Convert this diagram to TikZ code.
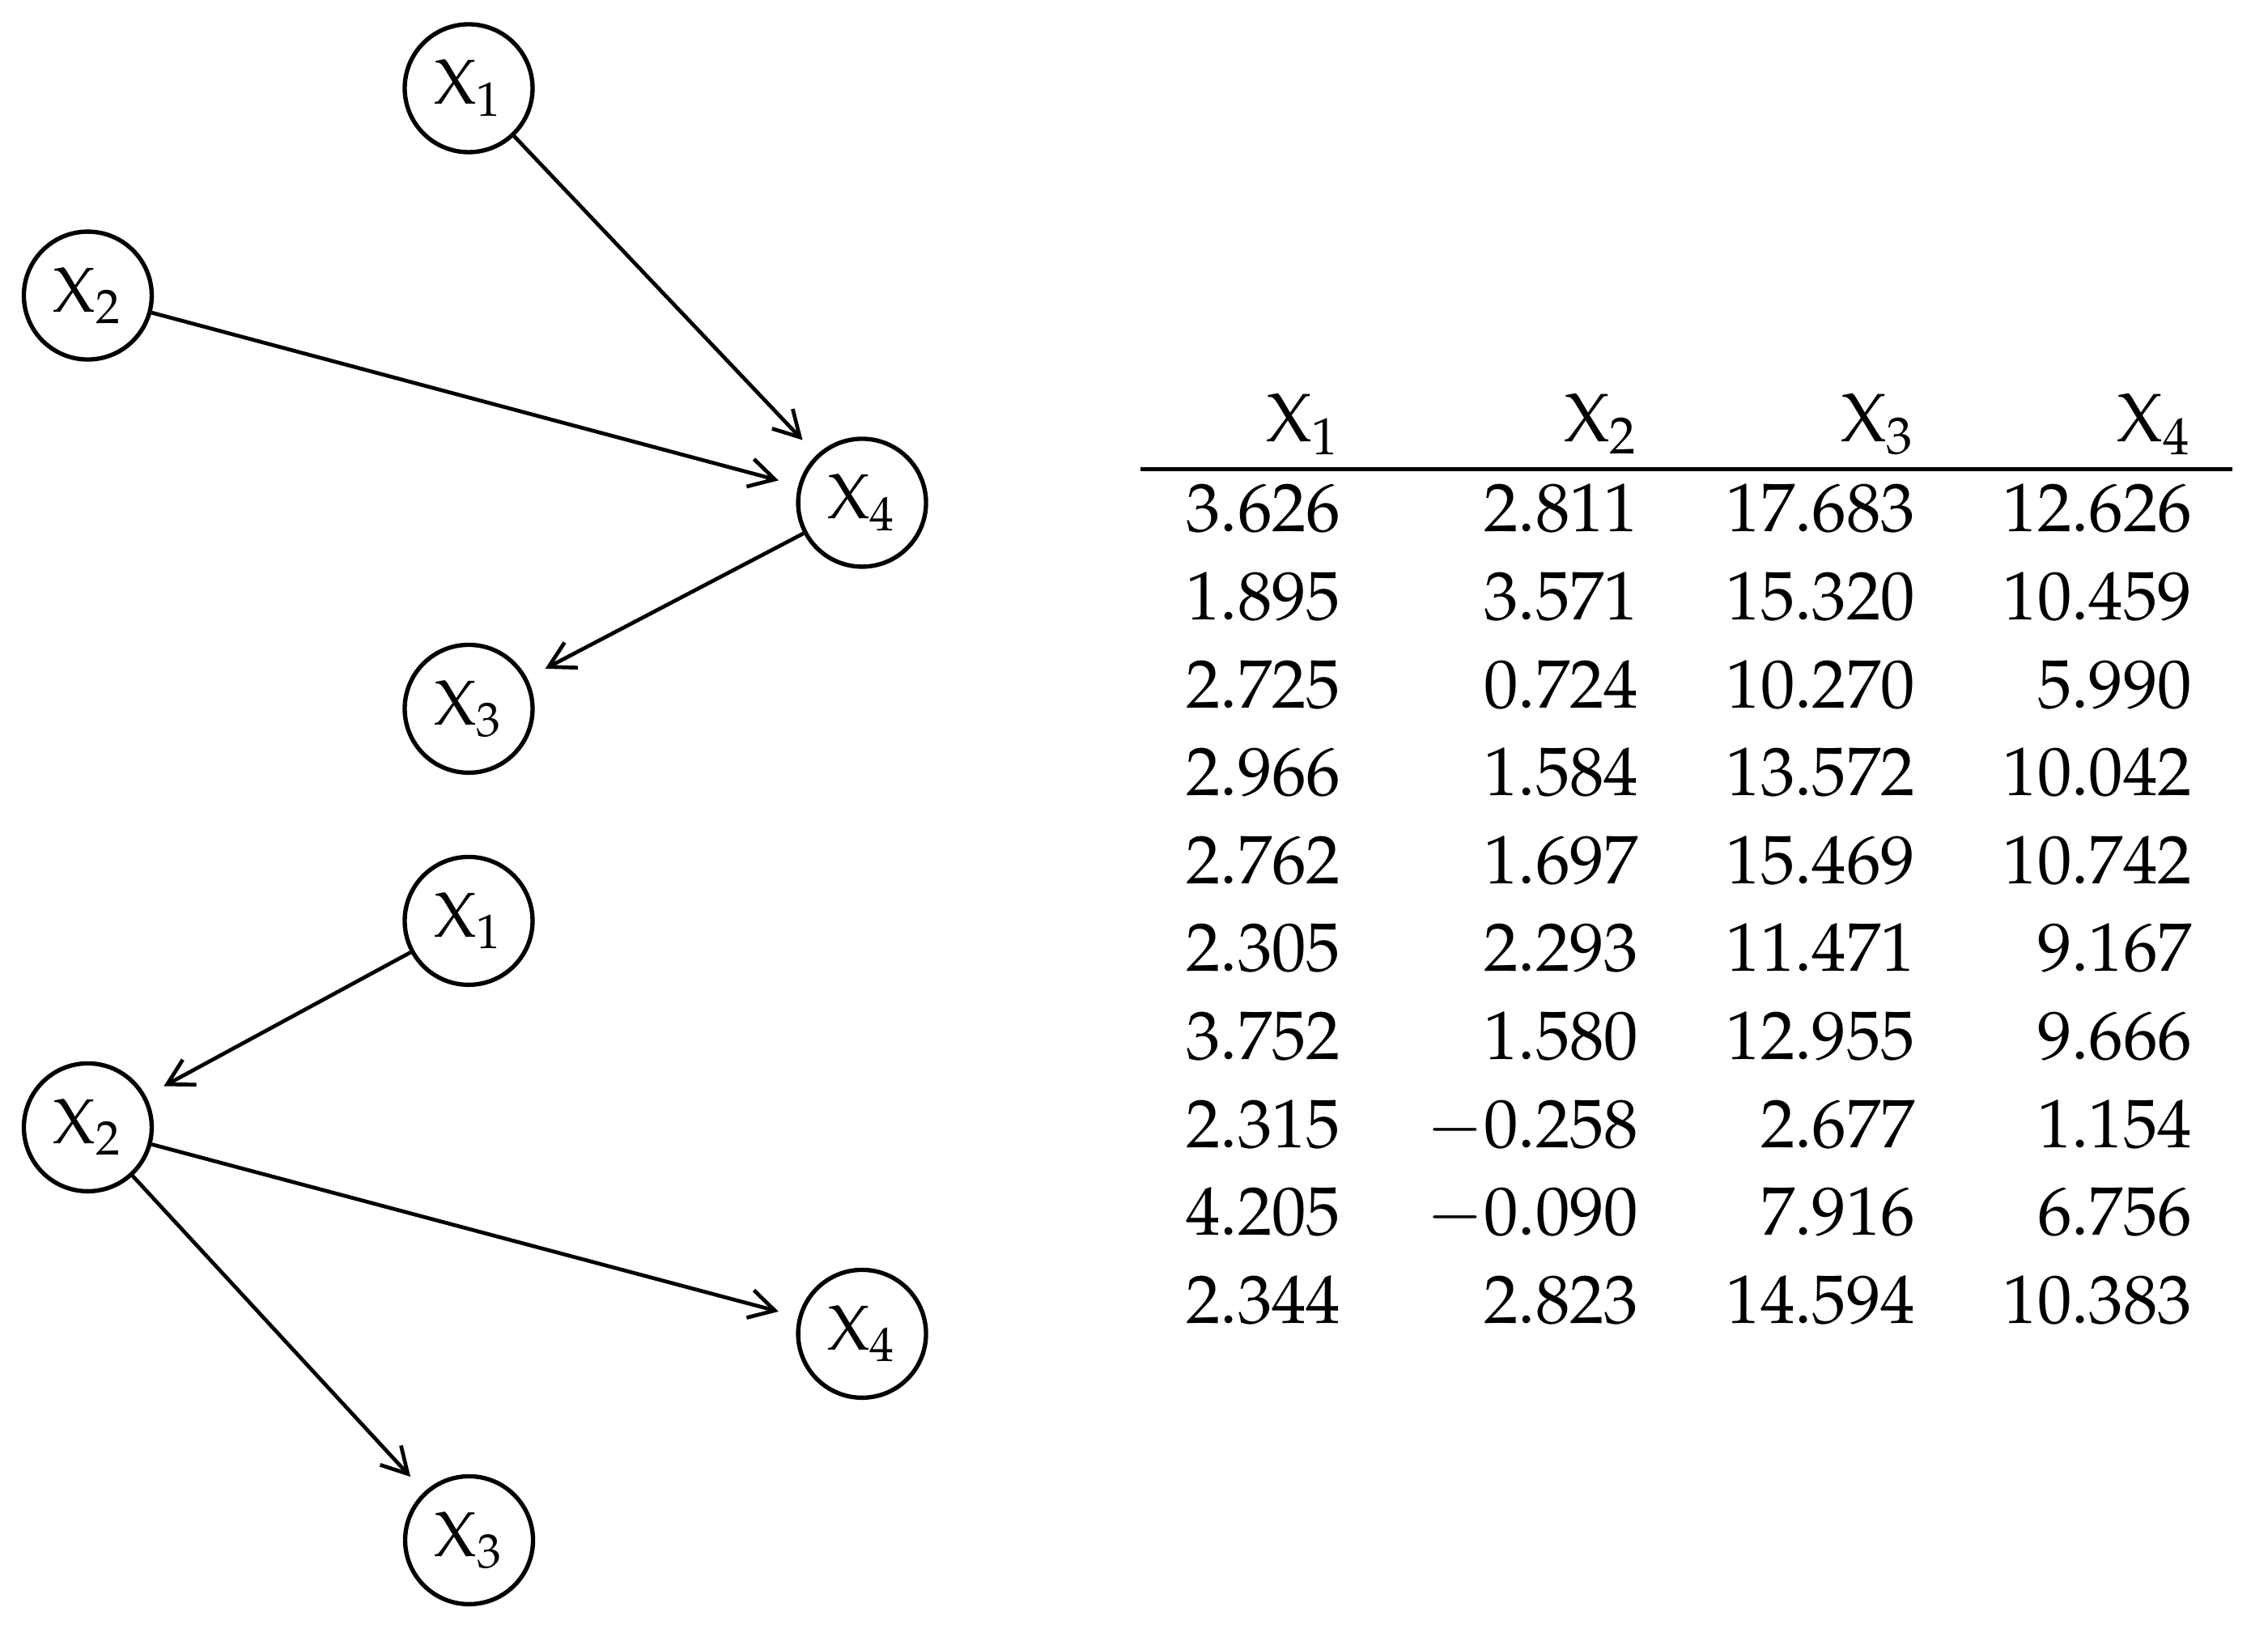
\documentclass[tikz,border=0pt]{standalone}
\usepackage{mathpazo}
\usetikzlibrary{arrows.meta}

\tikzset{
  var/.style={circle,draw,line width=0.85pt,minimum size=0.884cm,inner sep=0pt,font=\fontsize{12.5}{15}\selectfont},
  val/.style={anchor=base east,inner sep=0pt,font=\fontsize{13.5}{16}\selectfont},
  link/.style={-{Straight Barb[length=5pt,width=5.6pt]},line width=0.75pt,shorten >=4pt}
}

\begin{document}
\begin{tikzpicture}
\useasboundingbox (0,0) rectangle (15.68,-11.282);

% first graph
\node[var] (a1) at (3.240,-0.610) {$\mathrm{X}_1$};
\node[var] (a2) at (0.607,-2.043) {$\mathrm{X}_2$};
\node[var] (a4) at (5.960,-3.475) {$\mathrm{X}_4$};
\node[var] (a3) at (3.240,-4.899) {$\mathrm{X}_3$};

\draw[link] (a1) -- (a4);
\draw[link] (a2) -- (a4);
\draw[link] (a4) -- (a3);

% second graph
\node[var] (b1) at (3.240,-6.365) {$\mathrm{X}_1$};
\node[var] (b2) at (0.607,-7.792) {$\mathrm{X}_2$};
\node[var] (b4) at (5.960,-9.219) {$\mathrm{X}_4$};
\node[var] (b3) at (3.243,-10.646) {$\mathrm{X}_3$};

\draw[link] (b1) -- (b2);
\draw[link] (b2) -- (b4);
\draw[link] (b2) -- (b3);

% table of samples
\node[val] (h1) at (9.275,-3.055) {$\mathrm{X}_1$};
\node[val] (h2) at (11.335,-3.055) {$\mathrm{X}_2$};
\node[val] (h3) at (13.247,-3.055) {$\mathrm{X}_3$};
\node[val] (h4) at (15.160,-3.055) {$\mathrm{X}_4$};

\coordinate (ruleL) at (7.885,-3.243);
\coordinate (ruleR) at (15.434,-3.243);
\draw[line width=0.85pt] (ruleL) -- (ruleR);

\foreach \a/\b/\c/\d [count=\i] in {
  3.626/2.811/17.683/12.626,
  1.895/3.571/15.320/10.459,
  2.725/0.724/10.270/5.990,
  2.966/1.584/13.572/10.042,
  2.762/1.697/15.469/10.742,
  2.305/2.293/11.471/9.167,
  3.752/1.580/12.955/9.666,
  2.315/-0.258/2.677/1.154,
  4.205/-0.090/7.916/6.756,
  2.344/2.823/14.594/10.383}{
  \node[val] (r\i c1) at (9.275,{-3.676-0.6077*(\i-1)}) {$\a$};
  \node[val] (r\i c2) at (11.335,{-3.676-0.6077*(\i-1)}) {$\b$};
  \node[val] (r\i c3) at (13.247,{-3.676-0.6077*(\i-1)}) {$\c$};
  \node[val] (r\i c4) at (15.160,{-3.676-0.6077*(\i-1)}) {$\d$};
}
\end{tikzpicture}
\end{document}
